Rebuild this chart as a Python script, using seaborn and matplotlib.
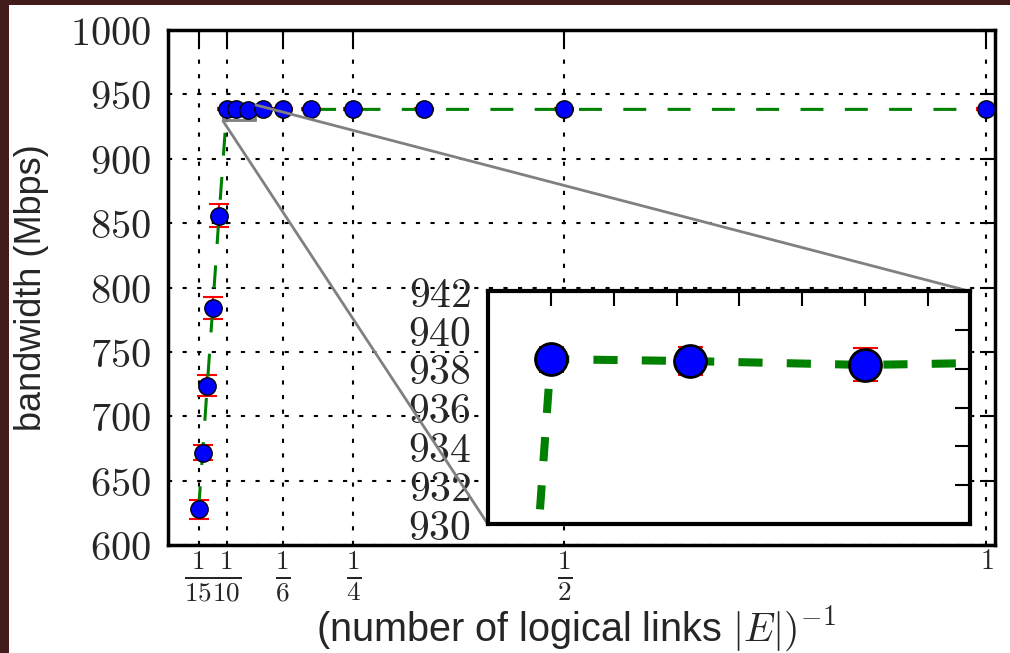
import matplotlib
matplotlib.use('Agg')
import numpy as np
import pandas as pd
import seaborn as sns
import matplotlib.pyplot as plt
from matplotlib.patches import Rectangle
from mpl_toolkits.axes_grid1.inset_locator import mark_inset

# number of logical links and the measured bandwidth (Mbps)
links = [15, 14, 13, 12, 11, 10, 9, 8, 7, 6, 5, 4, 3, 2, 1]
bandwidth = [628, 672, 724, 784, 856, 938.5, 938.4, 938.2, 938.4,
             938.4, 938.4, 938.4, 938.4, 938.4, 938.4]
bw_err = [7.5, 6, 8, 8.5, 9, 0.65, 0.7, 0.85, 0.7,
          0.7, 0.7, 0.7, 0.7, 0.7, 0.7]

xtick_vals = [1/15, 1/10, 1/6, 1/4, 1/2, 1]
xtick_labels = [r'$\frac{1}{15}$', r'$\frac{1}{10}$', r'$\frac{1}{6}$',
                r'$\frac{1}{4}$', r'$\frac{1}{2}$', r'$1$']
ytick_vals = [600, 650, 700, 750, 800, 850, 900, 950, 1000]
inset_yticks = [930, 932, 934, 936, 938, 940, 942]
inset_xticks = [0.100, 0.105, 0.110, 0.115, 0.120, 0.125, 0.130]

data = pd.DataFrame({'inv_links': 1 / np.array(links, dtype=float),
                     'bandwidth': bandwidth, 'err': bw_err})

sns.set_style('white')
plt.rcParams['mathtext.fontset'] = 'cm'
plt.rcParams['font.family'] = ['Liberation Sans', 'DejaVu Sans']

fig = plt.figure(figsize=(10.1, 6.53), dpi=100)
fig.patch.set_facecolor('#421b1b')
fig.add_artist(Rectangle((9/1010, 0), 1, 1 - 5/653, transform=fig.transFigure,
                         facecolor='white', edgecolor='none', zorder=-1))

ax = fig.add_axes([0.166, 0.165, 0.819, 0.789])
axins = fig.add_axes([0.483, 0.1975, 0.477, 0.3565])


def draw(a, lw, dash, msize, medge, cap):
    a.errorbar(data['inv_links'], data['bandwidth'], yerr=data['err'], fmt='none',
               ecolor='red', elinewidth=1.5, capsize=cap, capthick=1.5, zorder=2)
    sns.lineplot(data=data, x='inv_links', y='bandwidth', ax=a, color='green',
                 lw=lw, linestyle=(0, dash), sort=True, zorder=3)
    sns.scatterplot(data=data, x='inv_links', y='bandwidth', ax=a, color='blue',
                    s=msize ** 2, edgecolor='black', linewidth=medge, zorder=4)


draw(ax, 2.2, (7.5, 7.0), 12.5, 1.0, 7)
draw(axins, 5.8, (3.0, 3.0), 23, 2.0, 9)

# main axes
ax.set_xlim(0.03, 1.01)
ax.set_ylim(600, 1000)
ax.set_xticks(xtick_vals)
ax.set_xticklabels(xtick_labels)
ax.set_yticks(ytick_vals)
ax.set_yticklabels([f'${v}$' for v in ytick_vals])
ax.tick_params(direction='in', length=11, width=1.5, top=True, right=True,
               labelsize=29, pad=12, color='black')
ax.tick_params(axis='x', pad=3, labelsize=28)
ax.get_xticklabels()[-1].set_fontsize(20)
ax.grid(True, color='black', linestyle=(0, (2, 5)), linewidth=1.5)
for s in ax.spines.values():
    s.set_linewidth(2.5)
    s.set_color('black')
ax.set_xlabel(r'(number of logical links $|E|)^{-1}$', fontsize=28.5)
ax.set_ylabel('bandwidth (Mbps)', fontsize=26)
ax.xaxis.set_label_coords(0.493, -0.115)
ax.yaxis.label.set_verticalalignment('center')
ax.yaxis.set_label_coords(-0.165, 0.5)

# inset
axins.set_xlim(0.095, 0.1333)
axins.set_ylim(930, 942)
axins.set_xticks(inset_xticks)
axins.set_xticklabels([])
axins.set_yticks(inset_yticks)
axins.set_yticklabels([f'${v}$' for v in inset_yticks])
axins.tick_params(direction='in', length=11, width=1.5, top=True, right=True,
                  labelsize=30, pad=12, color='black')
axins.set_xlabel('')
axins.set_ylabel('')
axins.grid(False)
axins.set_facecolor('white')
for s in axins.spines.values():
    s.set_linewidth(3)
    s.set_color('black')

mark_inset(ax, axins, loc1=1, loc2=3, fc='none', ec='0.5', lw=2)

fig.savefig('out.png', dpi=100, facecolor=fig.get_facecolor())
